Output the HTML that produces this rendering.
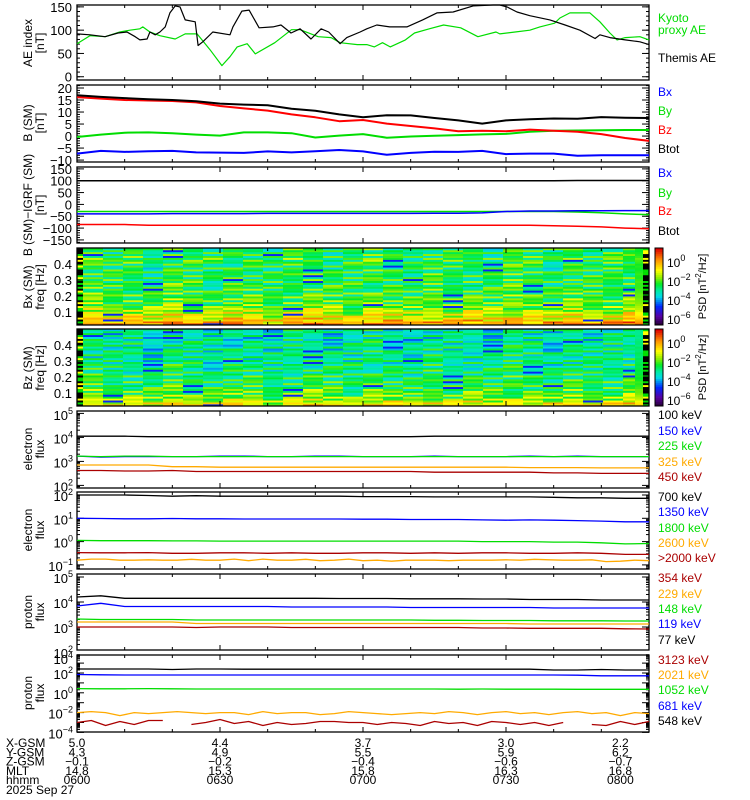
<!DOCTYPE html>
<html><head><meta charset="utf-8"><style>
html,body{margin:0;padding:0;background:#fff;}
svg{display:block;font-family:"Liberation Sans",sans-serif;}
</style></head><body>
<svg id="chart" width="750" height="800" viewBox="0 0 750 800" xmlns="http://www.w3.org/2000/svg"></svg>
<script>
// ---------- data ----------
const aeThemisT = [0,2.7,5.9,8.6,10.5,12.2,13.2,14.7,15.3,16.4,17.4,18.5,19.5,20.6,21.6,22.7,24.8,25.4,26.4,28.5,32.1,32.7,34.6,36.1,38.2,41.1,42.8,44.9,46.8,49.1,51.2,52.8,55.2,56.6,59.4,60.8,62.9,65.6,69.2,72.5,75.5,78.9,83.1,87.3,88.7,90.2,92.3,95,99.2,102.4,105.5,108.7,109.7,111.8,115,118.1,120];
const aeThemisV = [92,90,86,94,96,86,79,81,96,90,96,107,137,152,150,122,118,67,75,96,90,107,141,143,105,107,111,94,103,81,103,96,71,84,96,103,111,107,107,122,137,139,152,154,154,150,139,131,122,111,100,82,90,84,79,75,69];
const aeKyotoT = [0,2.7,5.9,9,11.1,13.2,13.8,15.3,17.4,20.6,22.7,25.2,27.9,30.4,32.1,33.6,35.7,37.4,41.5,45,46.8,50.6,53.3,55.2,58.8,60.8,62.4,64.1,65.7,68.9,70.8,73.9,76.9,80.5,84.1,87.9,88.7,91.9,95,97.1,100.2,101.3,103.4,107.6,109.7,111.8,113.3,115,118.1,120];
const aeKyotoV = [71,88,86,96,100,103,107,96,88,81,92,92,58,24,43,64,71,49,73,101,101,86,84,73,69,69,64,73,64,79,94,103,111,105,86,96,92,96,100,107,115,126,137,137,118,94,79,84,86,79];
const gridT = [0,5,10,15,20,25,30,35,40,45,50,55,60,65,70,75,80,85,90,95,100,105,110,115,120];
const bBx = [-7.3,-6.2,-6.6,-6.3,-6.2,-6.8,-6.9,-7,-6.4,-6.8,-6.3,-5.8,-6.4,-7.8,-7,-6.5,-6.6,-6.2,-7.5,-7.3,-7.3,-8.2,-8,-8,-8];
const bBy = [-0.4,0.6,1.4,1.5,1.2,0.6,0.2,1.5,1.5,1.2,-0.6,0.2,0.8,-0.7,-0.2,0.1,0.4,0.7,0.9,1.8,2.2,2.3,2.4,2.5,2.5];
const bBz = [16.2,15.6,15,14.8,14.6,14,12.5,11.5,10.6,9,7.8,6.2,6.7,5.2,4.2,3.2,2,2.2,2,2.7,2.2,1.8,0.8,-0.8,-2];
const bBtot = [17,16.3,15.8,15.3,15,14.5,13.5,13.1,12.8,11.4,10.5,9,7.8,8.7,8.6,7.5,6.5,5.2,6.5,7,7.3,7.2,7.9,7.6,7.5];
const dBx = [-40,-40,-40,-40,-39,-39,-39,-39,-38,-38,-38,-38,-38,-38,-38,-37,-37,-36,-30,-28,-28,-27,-27,-26,-26];
const dBy = [-30,-30,-30,-30,-30,-30,-30,-30,-30,-30,-30,-30,-30,-30,-30,-30,-30,-30,-30,-30,-30,-32,-35,-40,-43];
const dBz = [-85,-85,-85,-88,-88,-88,-88,-88,-88,-88,-88,-88,-88,-88,-88,-88,-88,-88,-88,-88,-90,-92,-95,-100,-103];
const dBtot = [100,100,100,100,100,100,100,100,100,100,100,100,100,100,100,100,100,100,100,100,100,101,101,101,101];
const e1_100 = [4.05,4.05,4.05,4.03,4.03,4.03,4.03,4.03,4.03,4.03,4.03,4.03,4.03,4.03,4.03,4.05,4.05,4.05,4.05,4.05,4.05,4.05,4.05,4.05,4.05];
const e1_150 = [3.22,3.18,3.2,3.2,3.2,3.2,3.22,3.22,3.2,3.2,3.22,3.22,3.2,3.2,3.2,3.22,3.2,3.2,3.2,3.22,3.2,3.22,3.2,3.2,3.2];
const e1_225 = [3.22,3.2,3.22,3.22,3.2,3.2,3.2,3.2,3.2,3.2,3.2,3.2,3.2,3.2,3.2,3.2,3.2,3.2,3.2,3.2,3.2,3.2,3.2,3.2,3.2];
const e1_325 = [2.85,2.85,2.85,2.85,2.78,2.78,2.76,2.76,2.76,2.76,2.76,2.76,2.76,2.76,2.76,2.76,2.76,2.76,2.76,2.74,2.74,2.74,2.73,2.73,2.73];
const e1_450 = [2.62,2.62,2.6,2.6,2.62,2.58,2.58,2.58,2.58,2.58,2.58,2.58,2.58,2.58,2.58,2.55,2.55,2.55,2.55,2.55,2.52,2.52,2.5,2.5,2.5];
const e2_700 = [2.0,2.0,2.0,1.98,1.95,1.97,1.95,1.95,1.95,1.95,1.95,1.95,1.93,1.93,1.93,1.92,1.92,1.92,1.92,1.92,1.9,1.88,1.88,1.86,1.86];
const e2_1350 = [1.0,0.99,0.98,0.98,0.99,0.98,0.98,0.97,0.97,0.97,0.97,0.97,0.96,0.96,0.95,0.95,0.95,0.93,0.92,0.93,0.92,0.9,0.88,0.85,0.85];
const e2_1800 = [0.05,0.04,0.04,0.04,0.03,0.03,0.02,0.02,0.02,0.02,0.02,0.02,0.02,0.02,0.02,0.02,0.02,0.0,0.0,0.0,-0.02,-0.02,-0.05,-0.1,-0.08];
const e2_2000 = [-0.47,-0.48,-0.48,-0.47,-0.5,-0.5,-0.48,-0.48,-0.5,-0.48,-0.5,-0.5,-0.48,-0.48,-0.5,-0.48,-0.5,-0.48,-0.48,-0.5,-0.5,-0.48,-0.5,-0.55,-0.55];
const e2_2600T = [0,3,6,9,12,15,18,21,24,27,30,33,36,39,42,45,48,51,54,57,60,63,66,69,72,75,78,81,84,87,90,93,96,99,102,105,108,111,114,117,120];
const e2_2600 = [-0.8,-0.75,-0.75,-0.8,-0.8,-0.78,-0.8,-0.8,-0.76,-0.8,-0.8,-0.75,-0.82,-0.75,-0.8,-0.8,-0.76,-0.82,-0.8,-0.75,-0.82,-0.8,-0.84,-0.8,-0.8,-0.8,-0.82,-0.8,-0.8,-0.8,-0.78,-0.8,-0.76,-0.78,-0.8,-0.8,-0.78,-0.86,-0.84,-0.8,-0.82];
const p1_354 = [3.0,3.0,3.0,3.0,3.0,2.98,3.0,3.0,3.0,2.98,2.98,2.98,2.98,2.98,2.98,2.98,2.98,2.96,2.96,2.95,2.95,2.95,2.95,2.93,2.92];
const p1_229 = [3.2,3.2,3.2,3.2,3.2,3.14,3.14,3.14,3.14,3.14,3.14,3.14,3.14,3.14,3.14,3.14,3.14,3.14,3.14,3.12,3.12,3.12,3.12,3.12,3.12];
const p1_148 = [3.32,3.3,3.3,3.3,3.3,3.28,3.28,3.28,3.28,3.28,3.28,3.28,3.28,3.28,3.28,3.27,3.27,3.26,3.26,3.26,3.25,3.25,3.25,3.24,3.24];
const p1_119 = [3.84,3.95,3.82,3.82,3.82,3.82,3.82,3.82,3.82,3.8,3.8,3.8,3.8,3.8,3.78,3.78,3.78,3.78,3.78,3.78,3.76,3.76,3.76,3.76,3.76];
const p1_77 = [4.2,4.25,4.15,4.15,4.15,4.15,4.15,4.15,4.15,4.15,4.15,4.14,4.14,4.14,4.13,4.13,4.13,4.12,4.12,4.1,4.1,4.1,4.08,4.08,4.08];
const p2_548 = [2.4,2.4,2.4,2.4,2.35,2.4,2.4,2.38,2.38,2.38,2.38,2.38,2.38,2.38,2.38,2.38,2.38,2.38,2.38,2.38,2.3,2.3,2.35,2.3,2.3];
const p2_681 = [1.85,1.82,1.8,1.8,1.8,1.8,1.8,1.8,1.8,1.8,1.8,1.8,1.8,1.8,1.8,1.8,1.8,1.8,1.8,1.8,1.8,1.78,1.72,1.72,1.72];
const p2_1052 = [0.42,0.4,0.4,0.42,0.4,0.38,0.38,0.38,0.38,0.38,0.38,0.38,0.38,0.38,0.38,0.38,0.36,0.38,0.36,0.36,0.36,0.35,0.35,0.35,0.35];
const p2T = [0,3,6,9,12,15,18,21,24,27,30,33,36,39,42,45,48,51,54,57,60,63,66,69,72,75,78,81,84,87,90,93,96,99,102,105,108,111,114,117,120];
const p2_2021 = [-2.0,-1.9,-2.0,-2.3,-2.0,-2.1,-2.0,-1.9,-2.0,-2.1,-2.0,-2.0,-2.2,-1.9,-2.1,-2.0,-2.0,-2.2,-2.1,-1.9,-2.0,-2.1,-2.2,-2.1,-2.0,-2.1,-1.9,-2.0,-2.2,-2.0,-1.9,-2.1,-2.0,-2.2,-2.0,-1.9,-2.1,-2.0,-2.3,-2.0,-2.1];
const p2_3123 = [-3.0,-2.8,-3.3,-2.9,-3.2,-2.8,-2.8,null,-3.2,-3.0,-2.7,-3.1,-2.9,-3.3,-3.0,-3.2,-3.1,-2.9,-2.9,-3.0,-3.0,-3.2,-3.0,-3.1,-3.3,-2.9,-3.1,-3.0,-3.3,-2.9,-3.0,-3.2,-3.0,-3.3,-3.0,null,-3.2,-3.3,-2.9,-3.2,-2.9];
// spectrogram data (normalised log-PSD levels 0..1)
const specColBase = [0.03,0.0,0.02,-0.02,0.03,0.0,-0.01,0.02,0.01,-0.02,0.02,0.03,0.0,-0.01,0.03,0.01,-0.02,0.02,0.0,0.02,-0.01,0.03,0.01,-0.01,0.02,0.0,0.02,0.04];
const bxRowProfile = [0.84,0.8,0.76,0.72,0.7,0.68,0.66,0.63,0.61,0.6,0.58,0.57,0.56,0.56,0.55,0.55,0.54,0.53,0.53,0.52,0.52,0.52,0.53,0.52,0.51,0.51,0.52,0.51,0.5,0.5,0.51,0.5,0.52,0.53,0.55,0.52,0.51,0.5,0.49,0.5];
const bzRowProfile = [0.72,0.7,0.66,0.62,0.6,0.58,0.56,0.55,0.55,0.53,0.52,0.51,0.52,0.5,0.49,0.5,0.48,0.47,0.48,0.47,0.46,0.47,0.46,0.45,0.46,0.44,0.45,0.46,0.44,0.44,0.45,0.43,0.44,0.44,0.43,0.42,0.43,0.42,0.42,0.43];
const specNoise = "4718290356172849305617283940516273849501627384950172638495071635284905173628490517263849501726384";
const cbarLabels = ["0","-2","-4","-6"];

// ---------- helpers ----------
const svg = document.getElementById('chart');
const NS = 'http://www.w3.org/2000/svg';
function mk(tag, attrs, parent){ const e=document.createElementNS(NS,tag); for(const k in attrs) e.setAttribute(k,attrs[k]); (parent||svg).appendChild(e); return e; }
const X0=77, X1=649;
const xT = t => X0 + t*(X1-X0)/120;
const GREEN='#00dd00', ORANGE='#ffaa00', DRED='#aa0000';
function linMap(top,bot,vTop,vBot){ return v => top + (vTop-v)*(bot-top)/(vTop-vBot); }
function drawLine(ts, vs, ymap, color, name, w){
  let d='', pen=false;
  for(let i=0;i<ts.length;i++){
    if(vs[i]===null||vs[i]===undefined){pen=false;continue;}
    d += (pen?'L':'M') + xT(ts[i]).toFixed(1)+','+ymap(vs[i]).toFixed(1)+' ';
    pen=true;
  }
  const p = mk('path',{d:d,fill:'none',stroke:color,'stroke-width':w||1.3,'stroke-linejoin':'round'});
  
  
  return p;
}
function frame(top,bot,name){
  const g = mk('g',{});
  
  
  mk('rect',{x:X0,y:top,width:X1-X0,height:bot-top,fill:'none',stroke:'#000','stroke-width':1.3},g);
  for(let t=10;t<120;t+=10){
    const len = (t%30===0)?5:3;
    mk('line',{x1:xT(t),x2:xT(t),y1:top,y2:top+len,stroke:'#000'},g);
    mk('line',{x1:xT(t),x2:xT(t),y1:bot,y2:bot-len,stroke:'#000'},g);
  }
  return g;
}
function yTick(g,y,len){
  mk('line',{x1:X0,x2:X0+len,y1:y,y2:y,stroke:'#000'},g);
  mk('line',{x1:X1,x2:X1-len,y1:y,y2:y,stroke:'#000'},g);
}
function txt(x,y,s,attrs,name){
  const t = mk('text',Object.assign({x:x,y:y,'font-size':13},attrs||{}));
  t.textContent=s;
  
  
  return t;
}
function powLabel(x,y,exp,name,anchor,fs){
  const t = mk('text',{x:x,y:y,'font-size':fs||13,'text-anchor':anchor||'end'});
  
  
  const a=mk('tspan',{},t); a.textContent='10';
  const b=mk('tspan',{dy:-6,'font-size':9},t); b.textContent=exp;
}
function ylabel(cx,cy,lines,name){
  const t = mk('text',{transform:`translate(${cx},${cy}) rotate(-90)`,'text-anchor':'middle','font-size':12});
  
  
  lines.forEach((s,i)=>{ const sp=mk('tspan',{x:0,dy:i===0?0:12},t); sp.textContent=s; });
}
function legend(items,name){
  items.forEach(it=>{ txt(658,it[2],it[0],{fill:it[1],'font-size':12},name); });
}
function linAxis(top,bot,vTop,vBot,majors,minorStep,name){
  const g=frame(top,bot,name+'-frame');
  const ym=linMap(top,bot,vTop,vBot);
  for(let v=Math.ceil(vBot/minorStep)*minorStep; v<=vTop; v+=minorStep){ yTick(g,ym(v),3); }
  majors.forEach(v=>{ yTick(g,ym(v),7); txt(X0-5,ym(v)+5,String(v).replace('-','\u2212'),{'text-anchor':'end'},name+'-tick-label'); });
  return ym;
}
function logAxis(top,bot,yMapLog,lo,hi,labelExps,name){
  const g=frame(top,bot,name+'-frame');
  for(let d=lo; d<=hi; d++){
    for(let k=1;k<10;k++){
      const y=yMapLog(d+Math.log10(k));
      if(y<top-0.5||y>bot+0.5) continue;
      yTick(g,y,k===1?7:3);
    }
  }
  labelExps.forEach(e=>{ const y=Math.max(yMapLog(e),top+3); powLabel(X0-4,y+6,String(e).replace('-','\u2212'),name+'-tick-label'); });
}

// ---------- panel 1: AE ----------
const yAE = linAxis(5,80,154,-7,[150,100,50,0],10,'ae-panel');
drawLine(aeKyotoT,aeKyotoV,yAE,GREEN,'kyoto-ae-line',1.2);
drawLine(aeThemisT,aeThemisV,yAE,'#000','themis-ae-line',1.2);
ylabel(32,43,['AE index','[nT]'],'ae-y-axis-title');
txt(658,22,'Kyoto',{fill:GREEN,'font-size':12},'legend-kyoto');
txt(658,34,'proxy AE',{fill:GREEN,'font-size':12},'legend-kyoto');
txt(658,62,'Themis AE',{fill:'#000','font-size':12},'legend-themis-ae');

// ---------- panel 2: B SM ----------
const yB = linAxis(85,162,21.25,-10.8,[20,15,10,5,0,-5,-10],1,'b-sm-panel');
drawLine(gridT,bBy,yB,GREEN,'by-line',2);
drawLine(gridT,bBx,yB,'#0000ff','bx-line',2);
drawLine(gridT,bBz,yB,'#ff0000','bz-line',2);
drawLine(gridT,bBtot,yB,'#000','btot-line',2);
ylabel(32,123,['B (SM)','[nT]'],'b-sm-y-axis-title');
legend([['Bx','#0000ff',96],['By',GREEN,115],['Bz','#ff0000',134],['Btot','#000',153]],'legend-b-sm');

// ---------- panel 3: B - IGRF ----------
const yD = linAxis(167,243,158,-163,[150,100,50,0,-50,-100,-150],10,'b-igrf-panel');
drawLine(gridT,dBz,yD,'#ff0000','dbz-line',1.5);
drawLine(gridT,dBy,yD,GREEN,'dby-line',1.5);
drawLine(gridT,dBx,yD,'#0000ff','dbx-line',1.5);
drawLine(gridT,dBtot,yD,'#000','dbtot-line',1.5);
ylabel(32,205,['B (SM)\u2212IGRF (SM)','[nT]'],'b-igrf-y-axis-title');
legend([['Bx','#0000ff',177],['By',GREEN,197],['Bz','#ff0000',215],['Btot','#000',235]],'legend-b-igrf');

// ---------- spectrograms ----------
function cmap(v){
  v=Math.max(0,Math.min(1,v));
  const stops=[[0,[30,0,40]],[0.12,[90,0,160]],[0.25,[0,40,255]],[0.38,[0,220,230]],[0.46,[0,235,160]],[0.54,[0,235,40]],[0.63,[150,240,0]],[0.72,[255,255,0]],[0.85,[255,150,0]],[1,[220,0,0]]];
  for(let i=1;i<stops.length;i++){ if(v<=stops[i][0]){ const a=stops[i-1],b=stops[i],f=(v-a[0])/(b[0]-a[0]); return 'rgb('+a[1].map((c,j)=>Math.round(c+(b[1][j]-c)*f)).join(',')+')'; } }
  return 'rgb(220,0,0)';
}
function spectro(top,bot,rowProfile,name){
  const g=mk('g',{});
  
  
  const nR=rowProfile.length, nC=specColBase.length;
  const x0=83, cw=(643-83)/nC, rh=(bot-top)/nR;
  for(let c=0;c<nC;c++){
    for(let r=0;r<nR;r++){
      const n=+specNoise[(r*7+c*13)%specNoise.length];
      let v=rowProfile[r]+specColBase[c]+(n-4.5)*0.028;
      if(n===0 && (r+c)%3===0) v=0.24;
      const cell=mk('rect',{x:(x0+c*cw).toFixed(1),y:(bot-(r+1)*rh).toFixed(2),width:(cw+0.6).toFixed(1),height:(rh+0.3).toFixed(2),fill:cmap(v)},g);
      
      
    }
  }
  for(let r=0;r<nR;r++){
    const n=+specNoise[(r*11)%specNoise.length];
    const colL = n%2===0?'#000':(n<5?'#ffff00':GREEN);
    mk('rect',{x:X0,y:(bot-(r+1)*rh).toFixed(2),width:6,height:(rh+0.3).toFixed(2),fill:colL},g);
    const colR = n%2===1?'#000':(n<5?GREEN:'#ffff00');
    mk('rect',{x:643,y:(bot-(r+1)*rh).toFixed(2),width:6,height:(rh+0.3).toFixed(2),fill:colR},g);
    mk('rect',{x:635,y:(bot-(r+1)*rh).toFixed(2),width:8,height:(rh+0.3).toFixed(2),fill:cmap(rowProfile[r]+0.05)},g);
  }
  const f=frame(top,bot,name+'-frame');
  [0.4,0.3,0.2,0.1].forEach(v=>{ const y=top+80-v*160; yTick(f,y,6); txt(X0-5,y+5,v.toFixed(1),{'text-anchor':'end'},name+'-tick-label'); });
  const cb=mk('g',{});
  
  
  const steps=40;
  for(let i=0;i<steps;i++){ mk('rect',{x:655,y:top+(bot-top)*i/steps,width:8,height:(bot-top)/steps+0.5,fill:cmap(1-i/steps)},cb); }
  mk('rect',{x:655,y:top,width:8,height:bot-top,fill:'none',stroke:'#000'},cb);
  cbarLabels.forEach((e,i)=>{ const y=top+19+i*19; powLabel(667,y,e.replace('-','\u2212'),name+'-colorbar-label','start',12); });
  const t=mk('text',{transform:`translate(706,${(top+bot)/2}) rotate(-90)`,'text-anchor':'middle','font-size':11});
  
  
  const s1=mk('tspan',{},t); s1.textContent='PSD [nT';
  const s2=mk('tspan',{dy:-5,'font-size':8},t); s2.textContent='2';
  const s3=mk('tspan',{dy:5},t); s3.textContent='/Hz]';
}
spectro(248,325,bxRowProfile,'bx-spectrogram');
ylabel(32,287,['Bx (SM)','freq [Hz]'],'bx-spectrogram-y-axis-title');
spectro(329,406,bzRowProfile,'bz-spectrogram');
ylabel(32,368,['Bz (SM)','freq [Hz]'],'bz-spectrogram-y-axis-title');

// ---------- panel 6: electron flux ----------
const yE1 = l => 411 + (5.1-l)*24;
logAxis(411,488,yE1,1,5,[5,4,3,2],'electron-flux-1-panel');
drawLine(gridT,e1_450,yE1,DRED,'electron-450kev-line');
drawLine(gridT,e1_325,yE1,ORANGE,'electron-325kev-line');
drawLine(gridT,e1_150,yE1,'#0000ff','electron-150kev-line');
drawLine(gridT,e1_225,yE1,GREEN,'electron-225kev-line');
drawLine(gridT,e1_100,yE1,'#000','electron-100kev-line');
ylabel(32,449,['electron','flux'],'electron-flux-1-y-axis-title');
legend([['100 keV','#000',419],['150 keV','#0000ff',435],['225 keV',GREEN,450],['325 keV',ORANGE,466],['450 keV',DRED,481]],'legend-electron-1');

// ---------- panel 7: electron flux high ----------
const yE2 = l => 495 + (2-l)*23.3;
logAxis(492,569,yE2,-2,2,[2,1,0,-1],'electron-flux-2-panel');
drawLine(e2_2600T,e2_2600,yE2,ORANGE,'electron-2600kev-line');
drawLine(gridT,e2_2000,yE2,DRED,'electron-gt2000kev-line');
drawLine(gridT,e2_1800,yE2,GREEN,'electron-1800kev-line');
drawLine(gridT,e2_1350,yE2,'#0000ff','electron-1350kev-line');
drawLine(gridT,e2_700,yE2,'#000','electron-700kev-line');
ylabel(32,530,['electron','flux'],'electron-flux-2-y-axis-title');
legend([['700 keV','#000',501],['1350 keV','#0000ff',516],['1800 keV',GREEN,532],['2600 keV',ORANGE,547],['>2000 keV',DRED,562]],'legend-electron-2');

// ---------- panel 8: proton flux ----------
const yP1 = l => 577 + (5-l)*25;
logAxis(574,650,yP1,1,5,[5,4,3,2],'proton-flux-1-panel');
drawLine(gridT,p1_354,yP1,DRED,'proton-354kev-line');
drawLine(gridT,p1_229,yP1,ORANGE,'proton-229kev-line');
drawLine(gridT,p1_148,yP1,GREEN,'proton-148kev-line');
drawLine(gridT,p1_119,yP1,'#0000ff','proton-119kev-line');
drawLine(gridT,p1_77,yP1,'#000','proton-77kev-line');
ylabel(32,612,['proton','flux'],'proton-flux-1-y-axis-title');
legend([['354 keV',DRED,582],['229 keV',ORANGE,598],['148 keV',GREEN,613],['119 keV','#0000ff',628],['77 keV','#000',644]],'legend-proton-1');

// ---------- panel 9: proton flux high ----------
const yP2 = l => 673 + (2-l)*9.9;
logAxis(655,732,yP2,-4,4,[4,2,0,-2,-4],'proton-flux-2-panel');
drawLine(p2T,p2_3123,yP2,DRED,'proton-3123kev-line');
drawLine(p2T,p2_2021,yP2,ORANGE,'proton-2021kev-line');
drawLine(gridT,p2_1052,yP2,GREEN,'proton-1052kev-line');
drawLine(gridT,p2_681,yP2,'#0000ff','proton-681kev-line');
drawLine(gridT,p2_548,yP2,'#000','proton-548kev-line');
ylabel(32,693,['proton','flux'],'proton-flux-2-y-axis-title');
legend([['3123 keV',DRED,664],['2021 keV',ORANGE,679],['1052 keV',GREEN,694],['681 keV','#0000ff',710],['548 keV','#000',725]],'legend-proton-2');

// ---------- ephemeris ----------
const ephNames = ['X-GSM','Y-GSM','Z-GSM','MLT','hhmm'];
const ephT = [0,30,60,90,114];
const ephVals = [
  ['5.0','4.4','3.7','3.0','2.2'],
  ['4.3','4.9','5.5','5.9','6.2'],
  ['\u22120.1','\u22120.2','\u22120.4','\u22120.6','\u22120.7'],
  ['14.8','15.3','15.8','16.3','16.8'],
  ['0600','0630','0700','0730','0800']
];
ephNames.forEach((n,i)=>{
  const y=747+i*9.3;
  txt(6,y,n,{'font-size':12},'ephemeris-row-label');
  ephVals[i].forEach((v,j)=>{ txt(xT(ephT[j]),y,v,{'font-size':12,'text-anchor':'middle'},'ephemeris-value'); });
});
txt(6,794,'2025 Sep 27',{'font-size':12},'date-label');
</script>
</body></html>
